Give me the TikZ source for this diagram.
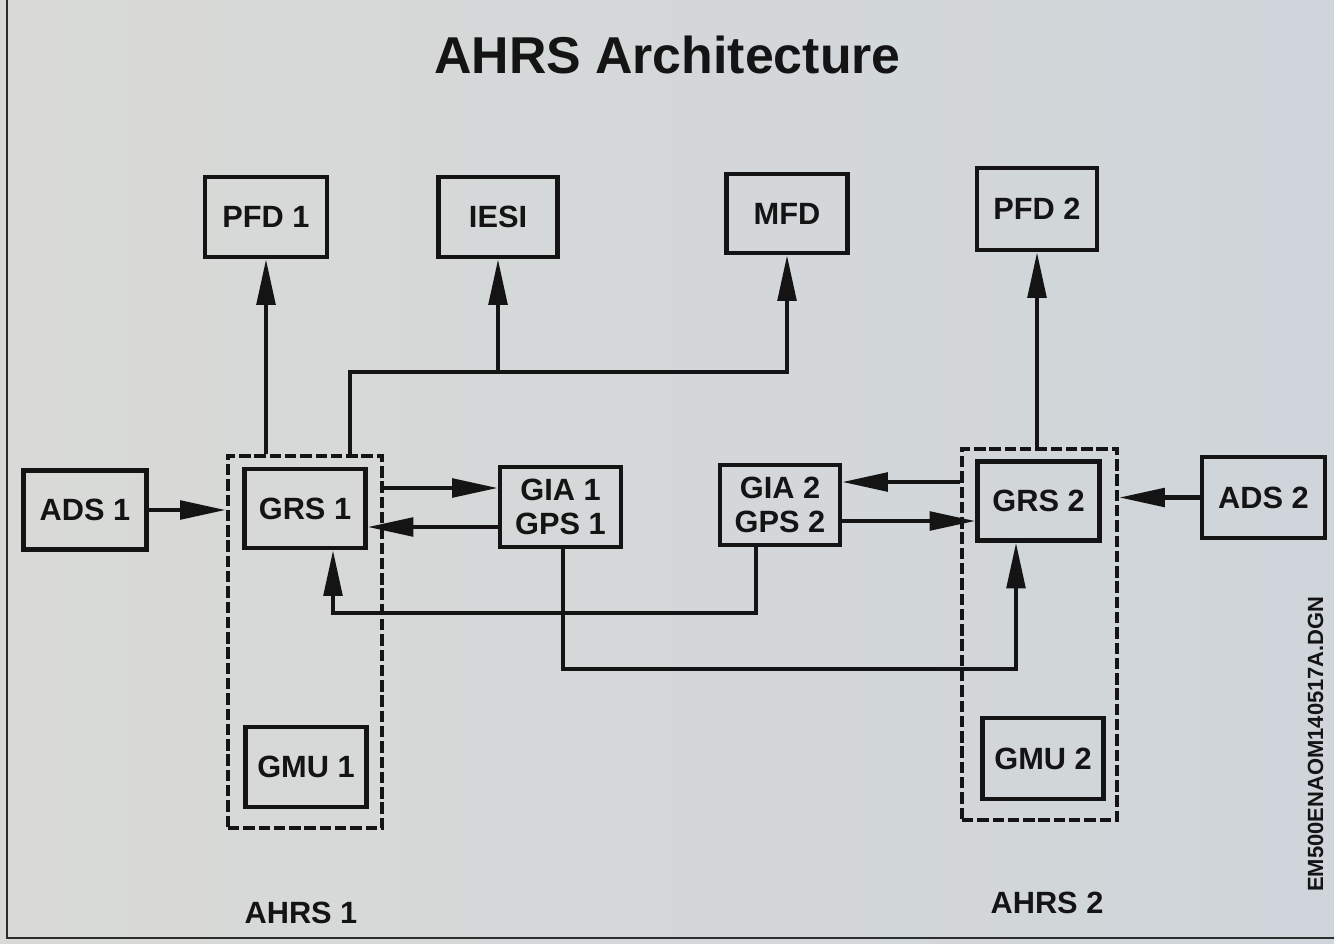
\documentclass[tikz,border=0pt]{standalone}
\usepackage{fontspec}
\setmainfont{Liberation Sans}
\usetikzlibrary{arrows.meta,calc}
\definecolor{bgl}{HTML}{D9DAD7}
\definecolor{bgr}{HTML}{CFD5DA}
\definecolor{ink}{HTML}{141414}
\begin{document}
\begin{tikzpicture}[x=0.02cm,y=-0.02cm,
  box/.style={draw=ink, line width=2.5pt, rectangle, inner sep=0pt, text=ink,
    font=\fontsize{17.5}{19}\selectfont\bfseries, align=center},
  group/.style={draw=ink, line width=2.6pt, rectangle, inner sep=0pt, dash pattern=on 6.5pt off 2.2pt},
  arr/.style={draw=ink, line width=2.4pt, -{Triangle[length=26pt,width=10.5pt]}},
  lbl/.style={text=ink, font=\fontsize{17.5}{19}\selectfont\bfseries, inner sep=0pt},
  frame/.style={draw=ink!90, line width=1pt}]
\useasboundingbox (0,0) rectangle (1334,943);
\shade[left color=bgl, right color=bgr] (0,0) rectangle (1334,943);
\draw[frame] (7,0) -- (7,938) -- (1334,938);

\node[text=ink, font=\fontsize{29.5}{32}\selectfont\bfseries, anchor=base, inner sep=0pt] (title) at (667.5,73) {AHRS Architecture};

% top displays
\node[box, minimum width=2.44cm, minimum height=1.6cm] (pfd1) at (266,217) {PFD 1};
\node[box, minimum width=2.38cm, minimum height=1.6cm] (iesi) at (498,217) {IESI};
\node[box, minimum width=2.42cm, minimum height=1.58cm] (mfd) at (787,213.5) {MFD};
\node[box, minimum width=2.40cm, minimum height=1.64cm] (pfd2) at (1037,209) {PFD 2};

% AHRS groups
\node[group, minimum width=3.08cm, minimum height=7.44cm] (ahrs1) at (305,642) {};
\node[group, minimum width=3.10cm, minimum height=7.42cm] (ahrs2) at (1039.5,634.5) {};

% middle row
\node[box, minimum width=2.46cm, minimum height=1.58cm] (ads1) at (85,510) {ADS 1};
\node[box, minimum width=2.42cm, minimum height=1.58cm] (grs1) at (305,508.5) {GRS 1};
\node[box, minimum width=2.42cm, minimum height=1.60cm] (gia1) at (560.5,507) {GIA 1\\GPS 1};
\node[box, minimum width=2.40cm, minimum height=1.60cm] (gia2) at (780,505) {GIA 2\\GPS 2};
\node[box, minimum width=2.44cm, minimum height=1.58cm] (grs2) at (1038.5,501) {GRS 2};
\node[box, minimum width=2.46cm, minimum height=1.62cm] (ads2) at (1263.5,497.5) {ADS 2};

% GMUs
\node[box, minimum width=2.42cm, minimum height=1.60cm] (gmu1) at (306,767) {GMU 1};
\node[box, minimum width=2.42cm, minimum height=1.62cm] (gmu2) at (1043,758.5) {GMU 2};

% labels
\node[lbl, anchor=base] (l1) at (301,923) {AHRS 1};
\node[lbl, anchor=base] (l2) at (1047,913) {AHRS 2};
\node[text=ink, font=\fontsize{12.5}{14}\selectfont\bfseries, rotate=90, anchor=base, inner sep=0pt] (code) at (1323,744) {EM500ENAOM140517A.DGN};

% helper coordinates
\coordinate (bus) at (350,372);
\coordinate (a12) at (0,488);
\coordinate (a21) at (0,527);
\coordinate (b21) at (0,482);
\coordinate (b12) at (0,521);
\coordinate (lp1a) at (756,613);
\coordinate (lp1b) at (333,613);
\coordinate (lp2a) at (563,669);
\coordinate (lp2b) at (1016,669);

% connectors
\draw[arr] (ahrs1.north -| pfd1.south) -- (pfd1.south);
\draw[arr] (ahrs1.north -| bus) -- (bus) -- (bus -| mfd.south) -- (mfd.south);
\draw[arr] (bus -| iesi.south) -- (iesi.south);
\draw[arr] (ahrs2.north -| pfd2.south) -- (pfd2.south);

\draw[arr] (ads1.east) -- (ahrs1.west |- ads1.east);
\draw[arr] (ahrs1.east |- a12) -- (gia1.west |- a12);
\draw[arr] (gia1.west |- a21) -- (grs1.east |- a21);

\draw[arr] (ahrs2.west |- b21) -- (gia2.east |- b21);
\draw[arr] (gia2.east |- b12) -- (grs2.west |- b12);
\draw[arr] (ads2.west) -- (ahrs2.east |- ads2.west);

\draw[arr] (gia2.south -| lp1a) -- (lp1a) -- (lp1b) -- (grs1.south -| lp1b);
\draw[arr] (gia1.south -| lp2a) -- (lp2a) -- (lp2b) -- (grs2.south -| lp2b);
\end{tikzpicture}
\end{document}
